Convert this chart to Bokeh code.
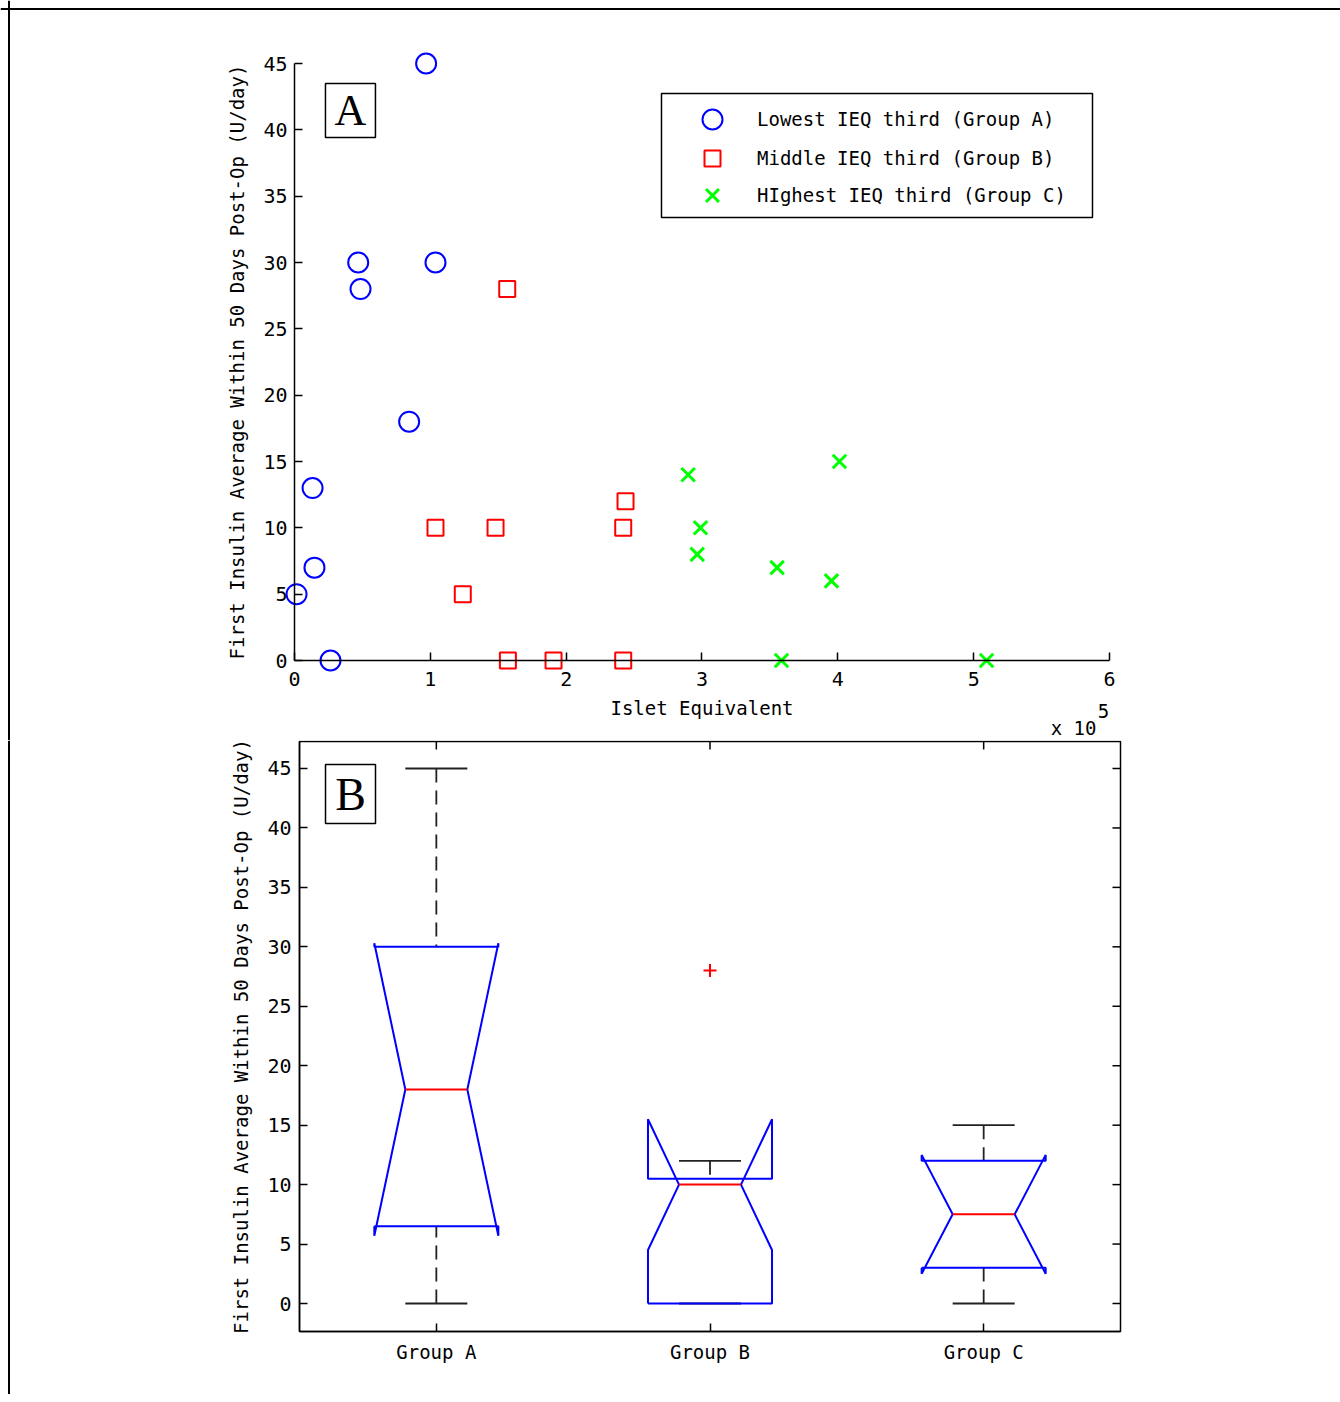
from bokeh.plotting import figure
from bokeh.models import (Range1d, Legend, LegendItem, Label, FixedTicker,
                          LinearAxis, BoxAnnotation, Span)
from bokeh.layouts import column
from bokeh.embed import file_html
from bokeh.resources import INLINE

# ---------------- data: panel A (islet equivalent in units of 1e5) ----------------
a_ieq = [0.015, 0.133, 0.147, 0.265, 0.469, 0.486, 0.844, 0.969, 1.038]
a_ins = [5, 13, 7, 0, 30, 28, 18, 45, 30]
b_ieq = [1.566, 1.038, 1.239, 1.480, 1.571, 1.907, 2.420, 2.437, 2.420]
b_ins = [28, 10, 5, 10, 0, 0, 10, 12, 0]
c_ieq = [2.898, 2.989, 2.965, 3.553, 3.953, 4.012, 3.585, 5.095]
c_ins = [14, 10, 8, 7, 6, 15, 0, 0]

x_ticks_a = [0, 1, 2, 3, 4, 5, 6]
y_ticks = [0, 5, 10, 15, 20, 25, 30, 35, 40, 45]
legend_labels = ["Lowest IEQ third (Group A)", "Middle IEQ third (Group B)",
                 "HIghest IEQ third (Group C)"]

# ---------------- data: panel B (notched box plot statistics) ----------------
groups = ["Group A", "Group B", "Group C"]
group_pos = [1, 2, 3]
q1 = [6.5, 0.0, 3.0]
med = [18.0, 10.0, 7.5]
q3 = [30.0, 10.5, 12.0]
whisk_lo = [0.0, 0.0, 0.0]
whisk_hi = [45.0, 12.0, 15.0]
notch_lo = [5.7, 4.5, 2.5]
notch_hi = [30.3, 15.5, 12.5]
outlier_pos = [2]
outlier_val = [28.0]

YLAB = "First Insulin Average Within 50 Days Post-Op (U/day)"
MONO = "DejaVu Sans Mono"

FW = 1340
H1 = 740
H2 = 654


def style_axis(ax, ticks):
    ax.ticker = FixedTicker(ticks=ticks)
    ax.major_tick_in = 8
    ax.major_tick_out = 0
    ax.minor_tick_line_color = None
    ax.axis_line_color = "black"
    ax.axis_line_width = 1.5
    ax.major_tick_line_color = "black"
    ax.major_tick_line_width = 1.5
    ax.major_label_text_font = MONO
    ax.major_label_text_font_size = "20px"
    ax.major_label_text_color = "black"
    ax.axis_label_text_font = MONO
    ax.axis_label_text_font_size = "19px"
    ax.axis_label_text_font_style = "normal"
    ax.axis_label_text_color = "black"


def base_fig(h, xr, yr):
    p = figure(width=FW, height=h, x_range=Range1d(*xr), y_range=Range1d(*yr),
               output_backend="svg", toolbar_location=None, title=None,
               x_axis_location=None, y_axis_location=None,
               min_border_left=0, min_border_right=0,
               min_border_top=0, min_border_bottom=0)
    p.xgrid.visible = False
    p.ygrid.visible = False
    p.outline_line_color = None
    p.background_fill_color = "white"
    p.border_fill_color = "white"
    return p


# ============================ Panel A ============================
p1 = base_fig(H1, (-2.1644, 7.7006), (-6.030, 49.749))

xa = LinearAxis(fixed_location=0, bounds=(0, 6))
style_axis(xa, x_ticks_a)
xa.axis_label = "Islet Equivalent"
xa.major_label_standoff = 11
xa.axis_label_standoff = 8
p1.add_layout(xa, "below")

ya = LinearAxis(fixed_location=0, bounds=(0, 45))
style_axis(ya, y_ticks)
ya.axis_label = YLAB
ya.major_label_standoff = 7
ya.axis_label_standoff = 12
p1.add_layout(ya, "left")

ra = p1.scatter(a_ieq, a_ins, marker="circle", size=20, fill_color=None,
                line_color="#0000ff", line_width=2)
rb = p1.scatter(b_ieq, b_ins, marker="square", size=16, fill_color=None,
                line_color="#ff0000", line_width=2)
rc = p1.scatter(c_ieq, c_ins, marker="x", size=19, line_color="#00ff00",
                line_width=3)

# legend frame
p1.add_layout(BoxAnnotation(left=2.7018, right=5.8748, top=42.739, bottom=33.392,
                            fill_color="white", fill_alpha=1.0, line_color="black",
                            line_alpha=1.0, line_width=1.5, line_dash="solid"))

for rend, lab, g, loc, stand in [
        (ra, legend_labels[0], 50, (687, 596), 20),
        (rb, legend_labels[1], 40, (692, 562), 25),
        (rc, legend_labels[2], 46, (689, 522), 22)]:
    lg = Legend(items=[LegendItem(label=lab, renderers=[rend])], location=loc,
                glyph_width=g, glyph_height=g, label_height=g, label_standoff=stand,
                padding=0, spacing=0, margin=0, border_line_color=None,
                background_fill_alpha=0.0, label_text_font=MONO,
                label_text_font_size="19px", label_text_color="black")
    p1.add_layout(lg, "center")

# panel letter
p1.add_layout(BoxAnnotation(left=0.228, right=0.596, top=43.49, bottom=39.42,
                            fill_color="white", fill_alpha=1.0, line_color="black",
                            line_alpha=1.0, line_width=1.5, line_dash="solid"))
p1.add_layout(Label(x=0.412, y=41.46, text="A", text_font="Liberation Serif",
                    text_font_size="44px", text_align="center", text_baseline="middle",
                    text_color="black"))

# exponent annotation
p1.add_layout(Label(x=5.956, y=-3.77, text="5", text_font=MONO, text_font_size="19px",
                    text_align="center", text_baseline="middle", text_color="black"))
p1.add_layout(Label(x=5.735, y=-5.88, text="x 10", text_font=MONO, text_font_size="19px",
                    text_align="center", text_baseline="bottom", text_color="black"))

# page frame lines
p1.add_layout(Span(location=-2.1018, dimension="height", line_color="black", line_width=2))
p1.add_layout(Span(location=49.108, dimension="width", line_color="black", line_width=2))

# ============================ Panel B ============================
X0, X1 = 0.5, 3.5
Y0, Y1 = -2.355, 47.271
p2 = base_fig(H2, (-0.5926, 4.3039), (-7.654, 47.355))

yl = LinearAxis(fixed_location=X0, bounds=(Y0, Y1))
style_axis(yl, y_ticks)
yl.axis_label = YLAB
yl.major_label_standoff = 8
yl.axis_label_standoff = 12
p2.add_layout(yl, "left")

xb = LinearAxis(fixed_location=Y0, bounds=(X0, X1))
style_axis(xb, group_pos)
xb.major_label_overrides = {pos: g for pos, g in zip(group_pos, groups)}
xb.major_label_text_font_size = "19px"
xb.major_label_standoff = 9
p2.add_layout(xb, "below")

# axes box (top and right sides) and inward ticks on those sides
p2.add_layout(BoxAnnotation(left=X0, right=X1, top=Y1, bottom=Y0, fill_color=None,
                            fill_alpha=0.0, line_color="black", line_alpha=1.0,
                            line_width=1.5, line_dash="solid"))
TKY = 8 / 11.889    # 8 px tick length in y data units
TKX = 8 / 273.667   # 8 px tick length in x data units
p2.segment(x0=group_pos, y0=[Y1] * len(group_pos), x1=group_pos,
           y1=[Y1 - TKY] * len(group_pos), line_color="black", line_width=1.5)
p2.segment(x0=[X1] * len(y_ticks), y0=y_ticks, x1=[X1 - TKX] * len(y_ticks), y1=y_ticks,
           line_color="black", line_width=1.5)

HW = 0.2266   # box half width
CW = 0.1133   # cap / notch half width

# whiskers
p2.segment(x0=group_pos, y0=whisk_hi, x1=group_pos, y1=q3, line_color="#222222",
           line_width=1.8, line_dash="14 8")
p2.segment(x0=group_pos, y0=whisk_lo, x1=group_pos, y1=q1, line_color="#222222",
           line_width=1.8, line_dash="14 8")
# caps
p2.segment(x0=[g - CW for g in group_pos], y0=whisk_hi,
           x1=[g + CW for g in group_pos], y1=whisk_hi, line_color="#222222", line_width=1.8)
p2.segment(x0=[g - CW for g in group_pos], y0=whisk_lo,
           x1=[g + CW for g in group_pos], y1=whisk_lo, line_color="#222222", line_width=1.8)

# notched boxes
xs, ys = [], []
for g, a, nl, m, nh, b in zip(group_pos, q1, notch_lo, med, notch_hi, q3):
    L, R = g - HW, g + HW
    xs.append([L, L, g - CW, L, L, R, R, g + CW, R, R, L])
    ys.append([a, nl, m, nh, b, b, nh, m, nl, a, a])
p2.multi_line(xs, ys, line_color="#0000ff", line_width=2)

# medians
p2.segment(x0=[g - CW for g in group_pos], y0=med, x1=[g + CW for g in group_pos], y1=med,
           line_color="#ff0000", line_width=2)
# outliers
p2.scatter(outlier_pos, outlier_val, marker="cross", size=13, line_color="#ff0000",
           line_width=2)

# panel letter
p2.add_layout(BoxAnnotation(left=0.595, right=0.7777, top=45.336, bottom=40.374,
                            fill_color="white", fill_alpha=1.0, line_color="black",
                            line_alpha=1.0, line_width=1.5, line_dash="solid"))
p2.add_layout(Label(x=0.6865, y=42.855, text="B", text_font="Liberation Serif",
                    text_font_size="46px", text_align="center", text_baseline="middle",
                    text_color="black"))

p2.add_layout(Span(location=-0.5615, dimension="height", line_color="black", line_width=2))

layout = column(p1, p2)
open("out.html", "w").write(file_html(layout, INLINE))
